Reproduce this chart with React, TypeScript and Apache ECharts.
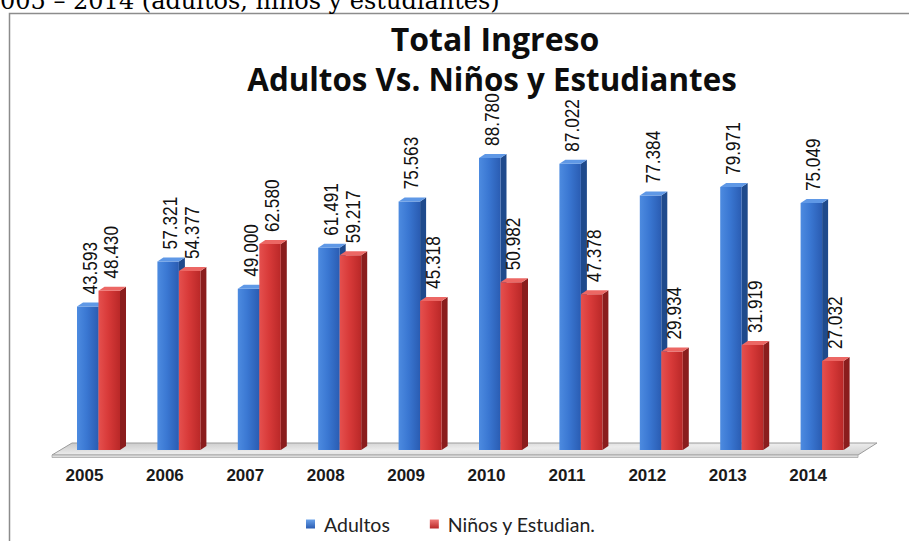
import React, { useEffect, useRef } from "react";
import * as echarts from "echarts";

const years = ["2005", "2006", "2007", "2008", "2009", "2010", "2011", "2012", "2013", "2014"];
const adultos = [43593, 57321, 49000, 61491, 75563, 88780, 87022, 77384, 79971, 75049];
const ninos = [48430, 54377, 62580, 59217, 45318, 50982, 47378, 29934, 31919, 27032];
const seriesNames = ["Adultos", "Niños y Estudian."];
const titleLines = ["Total Ingreso", "Adultos Vs. Niños y Estudiantes"];
const caption = "005 – 2014 (adultos, niños y estudiantes)";

const fmt = (v: number) => {
  const k = Math.floor(v / 1000);
  const r = String(Math.round(v % 1000)).padStart(3, "0");
  return k + "." + r;
};

const palettes = [
  {
    flat: new echarts.graphic.LinearGradient(0, 0, 0, 1, [
      { offset: 0, color: "#6aa2ea" },
      { offset: 1, color: "#2a5cb2" },
    ]),
    front: new echarts.graphic.LinearGradient(0, 0, 1, 0, [
      { offset: 0, color: "#4d8be0" },
      { offset: 0.45, color: "#3a77d2" },
      { offset: 1, color: "#2a5cb2" },
    ]),
    side: "#1f4a8c",
    top: "#5f98e6",
  },
  {
    flat: new echarts.graphic.LinearGradient(0, 0, 0, 1, [
      { offset: 0, color: "#f07a78" },
      { offset: 1, color: "#b92828" },
    ]),
    front: new echarts.graphic.LinearGradient(0, 0, 1, 0, [
      { offset: 0, color: "#e5504e" },
      { offset: 0.45, color: "#d83a39" },
      { offset: 1, color: "#b92828" },
    ]),
    side: "#8a1d1d",
    top: "#ec6764",
  },
];

function renderBar(params: any, api: any) {
  const s = params.seriesIndex;
  const idx = api.value(0);
  const val = api.value(1);
  const top = api.coord([idx, val]);
  const base = api.coord([idx, 0]);
  const bw = 21.5;
  const dx = 6;
  const dy = 4;
  const x0 = top[0] + (s === 0 ? -bw : 0);
  const x1 = x0 + bw;
  const yT = top[1];
  const yB = base[1];
  const p = palettes[s];
  return {
    type: "group",
    children: [
      {
        type: "polygon",
        shape: { points: [[x1, yT], [x1 + dx, yT - dy], [x1 + dx, yB - dy], [x1, yB]] },
        style: { fill: p.side },
      },
      {
        type: "rect",
        shape: { x: x0, y: yT, width: bw, height: yB - yT },
        style: { fill: p.front },
      },
      {
        type: "polygon",
        shape: { points: [[x0, yT], [x1, yT], [x1 + dx, yT - dy], [x0 + dx, yT - dy]] },
        style: { fill: p.top },
      },
      {
        type: "text",
        x: (x0 + x1) / 2 + 2,
        y: yT - 12,
        rotation: Math.PI / 2,
        scaleX: 0.82,
        style: {
          text: fmt(val),
          font: '21px "Liberation Sans", Arial, sans-serif',
          fill: "#111111",
          align: "left",
          verticalAlign: "middle",
        },
      },
    ],
  };
}

export default function App() {
  const ref = useRef<HTMLDivElement>(null);
  useEffect(() => {
    if (!ref.current) return;
    const chart = echarts.init(ref.current, null, { renderer: "svg" });
    chart.setOption({
      animation: false,
      backgroundColor: "#ffffff",
      graphic: [
        {
          type: "text",
          x: 0,
          y: 0.6,
          z: 10,
          style: {
            text: caption,
            font: '24px "DejaVu Serif", serif',
            fill: "#000",
            align: "left",
            verticalAlign: "middle",
          },
        },
        {
          type: "rect",
          z: 0,
          shape: { x: 9.5, y: 13.5, width: 1000, height: 700 },
          style: { fill: "none", stroke: "#8c8c8c", lineWidth: 1.5 },
        },
        {
          type: "text",
          x: 495,
          y: 38,
          style: {
            text: titleLines[0],
            font: 'bold 32px "Open Sans", sans-serif',
            fill: "#0d0d0d",
            align: "center",
            verticalAlign: "middle",
          },
        },
        {
          type: "text",
          x: 492,
          y: 79,
          style: {
            text: titleLines[1],
            font: 'bold 31.3px "Open Sans", sans-serif',
            fill: "#0d0d0d",
            align: "center",
            verticalAlign: "middle",
          },
        },
        {
          type: "polygon",
          z: 0,
          shape: { points: [[72, 443], [877, 443], [858, 455], [52, 455]] },
          style: {
            fill: new echarts.graphic.LinearGradient(0, 0, 1, 1, [
              { offset: 0, color: "#c8c8c8" },
              { offset: 0.5, color: "#ececec" },
              { offset: 1, color: "#d0d0d0" },
            ]),
            stroke: "#9c9c9c",
            lineWidth: 1,
          },
        },
        {
          type: "polygon",
          z: 0,
          shape: { points: [[52, 455], [858, 455], [858, 457.5], [52, 457.5]] },
          style: { fill: "#dcdcdc", stroke: "#a8a8a8", lineWidth: 0.8 },
        },
      ],
      grid: { left: 58.3, right: 46.7, top: 121, bottom: 91 },
      legend: {
        left: 301,
        top: 509,
        itemWidth: 9,
        itemHeight: 9,
        itemGap: 40,
        icon: "rect",
        data: seriesNames,
        textStyle: {
          fontFamily: "Lato, sans-serif",
          fontSize: 19.5,
          color: "#222",
          padding: [0, 0, 0, 4],
        },
      },
      xAxis: {
        type: "category",
        data: years,
        axisLine: { show: false },
        axisTick: { show: false },
        axisLabel: {
          margin: 17,
          fontSize: 17,
          fontWeight: "bold",
          color: "#1a1a1a",
          fontFamily: "'Liberation Sans Narrow', 'Liberation Sans', sans-serif",
          padding: [0, 28, 0, 0],
        },
      },
      yAxis: { type: "value", min: 0, max: 100000, show: false, splitLine: { show: false } },
      series: [
        {
          name: seriesNames[0],
          type: "custom",
          renderItem: renderBar,
          itemStyle: { color: palettes[0].flat },
          encode: { x: 0, y: 1 },
          data: adultos.map((v, i) => [i, v]),
        },
        {
          name: seriesNames[1],
          type: "custom",
          renderItem: renderBar,
          itemStyle: { color: palettes[1].flat },
          encode: { x: 0, y: 1 },
          data: ninos.map((v, i) => [i, v]),
        },
      ],
    });
    return () => chart.dispose();
  }, []);
  return (
    <div
      ref={ref}
      style={{ position: "absolute", left: 0, top: 0, width: 909, height: 541 }}
    />
  );
}
